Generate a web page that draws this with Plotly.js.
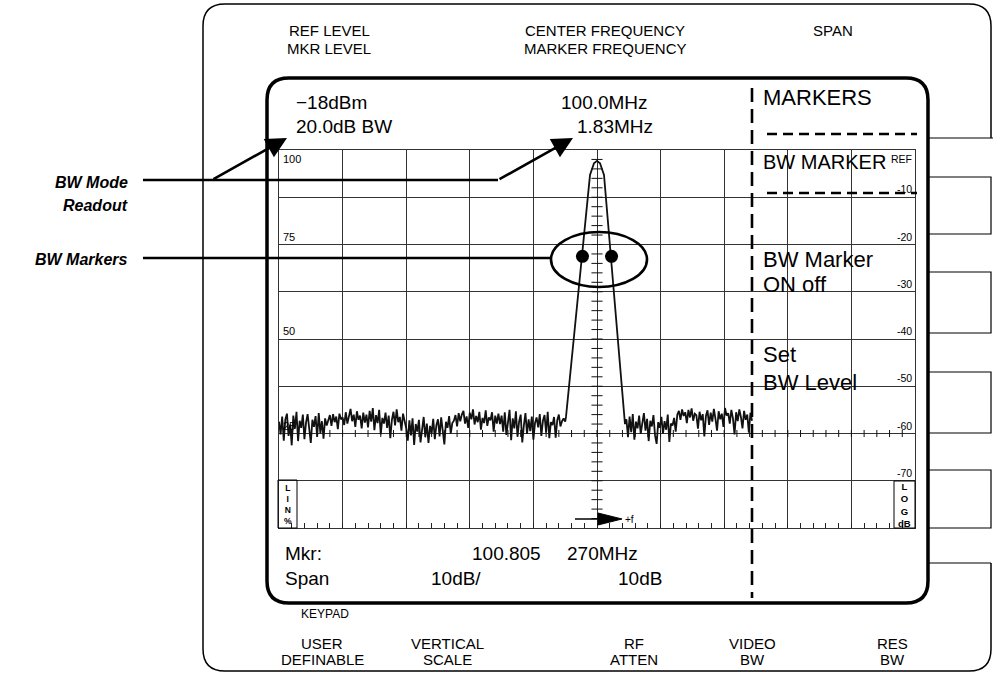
<!DOCTYPE html>
<html><head><meta charset="utf-8">
<script src="https://cdn.plot.ly/plotly-3.0.1.min.js"></script>
<style>html,body{margin:0;padding:0;background:#fff;} #chart{width:993px;height:674px;}</style>
</head><body><div id="chart"></div>
<script>
// ---------------- data (frequency offset from 100.0 MHz centre, level in dB rel. REF) ----------------
const noiseLeftStart = -20.0;
const noiseRightStart = 1.85;
const noiseStep = 0.1;
const noiseLeft = [
 -57.5,-60.2,-56.4,-61.5,-57.0,-55.8,-60.5,-58.1,-62.5,-56.2,-59.0,-55.4,-61.6,-57.3,-58.8,-56.0,-61.2,-57.7,-55.9,-59.4,-62.0,-57.1,-58.6,-56.3,-60.7,-55.7,-59.9,-57.4,-61.1,-56.8,-58.3,
 -57.2,-56.1,-58.4,-55.9,-57.6,-56.4,-59.1,-55.8,-57.0,-56.6,-58.2,-55.5,-57.9,-56.3,-54.8,-57.4,-56.0,-58.6,-55.3,-57.1,-56.2,-58.9,-55.6,-57.7,
 -56.0,-58.7,-55.2,-57.5,-54.6,-59.3,-56.1,-57.8,-55.0,-60.2,-56.7,-57.9,-55.6,-58.8,-56.2,-61.0,-57.1,-55.4,-58.3,-54.9,-57.6,-56.5,-59.4,-55.8,-57.3,
 -58.9,-61.5,-57.2,-60.4,-56.8,-62.4,-58.0,-59.6,-57.1,-61.9,-58.6,-56.5,-60.8,-57.9,-62.0,-58.4,-59.9,-56.9,-61.2,-58.2,-57.0,-60.6,-56.6,-59.1,-62.3,-57.5,-58.8,-56.3,-60.0,-57.8,
 -57.3,-56.1,-58.5,-55.7,-57.4,-56.0,-55.2,-57.9,-56.4,-58.8,-55.6,-57.0,-54.9,-58.1,-56.3,-57.6,-55.4,-59.2,-56.7,-57.8,-55.1,-58.4,-56.6,-57.2,-55.5,-59.6,-56.2,-57.9,-55.8,-58.0,
 -56.2,-59.6,-55.5,-60.3,-57.1,-55.0,-61.4,-56.8,-58.9,-55.3,-60.7,-57.5,-56.0,-61.9,-58.3,-55.7,-60.1,-57.0,-59.5,-56.4,-61.3,-57.8,-56.6,-58.7,-55.9,-60.5,-57.3,-56.1,-59.8,-55.4,-61.0,-57.6,-58.2,-56.5,-60.9,-57.2,-56.0,-58.5,-57.4,-56.8,-57.5
];
const peakOffsets = [-1.95, -0.44, -0.19, 0.0, 0.19, 0.44, 1.76];
const peakLevels  = [-56.5, -5.3, -2.8, -2.3, -2.8, -5.3, -58.0];
const noiseRight = [
 -57.0,-60.8,-56.4,-59.7,-55.9,-61.3,-57.5,-58.9,-56.2,-60.1,-57.8,-55.7,-59.4,-56.9,-61.6,-57.3,-58.5,-56.1,-60.4,-62.2,-57.6,-58.8,-56.5,-60.0,-57.4,-59.2,-56.0,-61.8,-57.9,-58.3,-56.7,-59.6,
 -56.0,-55.2,-57.1,-54.9,-56.3,-55.5,-57.8,-55.0,-56.6,-54.7,-57.3,-55.8,-56.1,-59.0,-55.4,-57.2,-55.9,-60.6,-56.3,-55.1,-58.2,-55.6,-57.5,-54.8,-56.9,-59.4,-55.3,-57.0,-55.8,-58.6,-54.6,-56.2,-55.7,-57.9,-55.0,-56.8,-60.2,-55.5,-57.4,-54.9,-56.5,-58.9,-55.2,-57.1,-56.0,-59.8,-55.6,-57.3
];
const bwMarkerOffsets = [-0.915, 0.915];
const bwMarkerLevels  = [-22.5, -22.5];
const dbTickVals  = [0, -10, -20, -30, -40, -50, -60, -70];
const dbTickText  = ['REF', '-10', '-20', '-30', '-40', '-50', '-60', '-70'];
const linTickVals = [100, 75, 50, 25];
const linTickText = ['100', '75', '50', '25'];

// ---------------- build trace ----------------
const tx = [], ty = [];
noiseLeft.forEach((v, i) => { tx.push(noiseLeftStart + i * noiseStep); ty.push(v); });
peakOffsets.forEach((v, i) => { tx.push(v); ty.push(peakLevels[i]); });
noiseRight.forEach((v, i) => { tx.push(noiseRightStart + i * noiseStep); ty.push(v); });

const traces = [
  {x: tx, y: ty, type: 'scatter', mode: 'lines', line: {color: '#111', width: 1.8}, hoverinfo: 'skip'},
  {x: bwMarkerOffsets, y: bwMarkerLevels, type: 'scatter', mode: 'markers',
   marker: {color: '#000', size: 13}, hoverinfo: 'skip'}
];

// ---------------- pixel helpers (plot area 279..915 x 150..528) ----------------
const L = 279, R = 915, T = 150, B = 528;
const px = v => (v - L) / (R - L);
const py = v => (B - v) / (B - T);
const P = (x, y) => px(x).toFixed(5) + ',' + py(y).toFixed(5);
function rrect(x0, y0, x1, y1, r) {
  return 'M' + P(x0 + r, y0) + ' L' + P(x1 - r, y0) + ' Q' + P(x1, y0) + ' ' + P(x1, y0 + r) +
    ' L' + P(x1, y1 - r) + ' Q' + P(x1, y1) + ' ' + P(x1 - r, y1) +
    ' L' + P(x0 + r, y1) + ' Q' + P(x0, y1) + ' ' + P(x0, y1 - r) +
    ' L' + P(x0, y0 + r) + ' Q' + P(x0, y0) + ' ' + P(x0 + r, y0) + ' Z';
}
const BLK = '#000';
const shapes = [];
function pline(pts, w, dash) {
  shapes.push({type: 'path', xref: 'paper', yref: 'paper',
    path: 'M' + pts.map(p => P(p[0], p[1])).join(' L'),
    line: {color: BLK, width: w, dash: dash || 'solid'}});
}
// outer panel (right side open between keys)
shapes.push({type: 'path', xref: 'paper', yref: 'paper', line: {color: BLK, width: 1.5},
  path: 'M' + P(991, 138) + ' L' + P(991, 26) + ' Q' + P(991, 4) + ' ' + P(969, 4) +
        ' L' + P(225, 4) + ' Q' + P(203, 4) + ' ' + P(203, 26) +
        ' L' + P(203, 649) + ' Q' + P(203, 671) + ' ' + P(225, 671) +
        ' L' + P(969, 671) + ' Q' + P(991, 671) + ' ' + P(991, 649) + ' L' + P(991, 563)});
// soft keys on the right
pline([[928, 138], [993, 138]], 1.2);
pline([[928, 563], [991, 563]], 1.2);
[[177, 234], [272, 333], [372, 433], [470, 528]].forEach(k => {
  pline([[928, k[0]], [991, k[0]], [991, k[1]], [928, k[1]]], 1.2);
});
// inner screen
shapes.push({type: 'path', xref: 'paper', yref: 'paper', path: rrect(267, 78, 928, 603, 22),
  line: {color: BLK, width: 3.5}});
// menu separators
pline([[752, 88], [752, 598]], 2.6, '14px,7px');
pline([[767, 134], [917, 134]], 2.6, '10px,6px');
pline([[767, 193], [917, 193]], 2.6, '10px,6px');
// centre-line graticule ticks
for (let i = 1; i < 40; i++) {
  const v = -80 + i * 2;
  shapes.push({type: 'line', xref: 'x', yref: 'y', x0: -0.35, x1: 0.35, y0: v, y1: v,
    line: {color: '#111', width: 1}});
}
for (let i = 1; i < 50; i++) {
  const f = -20 + i * 0.8;
  shapes.push({type: 'line', xref: 'x', yref: 'y', x0: f, x1: f, y0: -60.75, y1: -59.25,
    line: {color: '#111', width: 1}});
}
// LIN% and LOG dB boxes
shapes.push({type: 'rect', xref: 'paper', yref: 'paper', x0: px(278), x1: px(297), y0: py(528), y1: py(480),
  line: {color: BLK, width: 1}});
shapes.push({type: 'rect', xref: 'paper', yref: 'paper', x0: px(894), x1: px(915), y0: py(528), y1: py(481),
  line: {color: BLK, width: 1}});
// +f arrow
pline([[575, 519], [598, 519]], 1.5);
shapes.push({type: 'path', xref: 'paper', yref: 'paper', path: 'M' + P(598, 513) + ' L' + P(622, 519) + ' L' + P(598, 525) + ' Z',
  fillcolor: BLK, line: {color: BLK, width: 1}});
// BW marker ellipse
shapes.push({type: 'circle', xref: 'paper', yref: 'paper', x0: px(551), x1: px(647), y0: py(287), y1: py(232),
  line: {color: BLK, width: 2.6}});
// callout lines
pline([[143, 180], [498, 180]], 2.6);
pline([[143, 258], [551, 258]], 2.6);

// ---------------- annotations ----------------
const SANS = 'Liberation Sans, Arial, Helvetica, sans-serif';
const ann = [];
function txt(t, x, y, size, anchor, extra) {
  const a = {text: t, xref: 'paper', yref: 'paper', x: px(x), y: py(y), xanchor: anchor || 'left', yanchor: 'middle',
    showarrow: false, borderpad: 0,
    font: Object.assign({family: SANS, size: size, color: BLK}, (extra && extra.font) || {})};
  ann.push(a);
  return a;
}
// arrows
ann.push({text: '', xref: 'paper', yref: 'paper', x: px(287), y: py(138), ax: -75, ay: 42, showarrow: true,
  arrowhead: 2, arrowsize: 1.6, arrowwidth: 2.6, arrowcolor: BLK, standoff: 0});
ann.push({text: '', xref: 'paper', yref: 'paper', x: px(573), y: py(138), ax: -75, ay: 42, showarrow: true,
  arrowhead: 2, arrowsize: 1.6, arrowwidth: 2.6, arrowcolor: BLK, standoff: 0});
// outer labels
txt('REF LEVEL', 329, 30, 15, 'center');
txt('MKR LEVEL', 329, 48, 15, 'center');
txt('CENTER FREQUENCY', 605, 30, 15, 'center');
txt('MARKER FREQUENCY', 605, 48, 15, 'center');
txt('SPAN', 833, 30, 15, 'center');
txt('KEYPAD', 325, 614, 12, 'center');
[['USER', 'DEFINABLE', 322], ['VERTICAL', 'SCALE', 447], ['RF', 'ATTEN', 634], ['VIDEO', 'BW', 752], ['RES', 'BW', 892]]
  .forEach(k => { txt(k[0], k[2], 643, 15, 'center'); txt(k[1], k[2], 659, 15, 'center'); });
// callout texts
const BI = {font: {family: SANS, weight: 'bold', style: 'italic'}};
txt('BW Mode', 129, 182, 16, 'right', BI);
txt('Readout', 129, 205, 16, 'right', BI);
txt('BW Markers', 129, 259, 16, 'right', BI);
// screen readouts
txt('\u221218dBm', 295, 103, 19, 'left');
txt('20.0dB BW', 295, 127, 19, 'left');
txt('100.0MHz', 649, 103, 19, 'right');
txt('1.83MHz', 654, 127, 19, 'right');
txt('Mkr:', 284, 553, 19, 'left');
txt('100.805', 471, 553, 19, 'left');
txt('270MHz', 566, 553, 19, 'left');
txt('Span', 284, 578, 19, 'left');
txt('10dB/', 430, 578, 19, 'left');
txt('10dB', 617, 578, 19, 'left');
// menu
txt('MARKERS', 762, 98, 22, 'left');
txt('BW MARKER', 762, 162, 20, 'left');
txt('BW Marker', 762, 259, 22, 'left');
txt('ON off', 762, 284, 22, 'left');
txt('Set', 762, 354, 22, 'left');
txt('BW Level', 762, 382, 22, 'left');
// graticule scale labels
dbTickVals.forEach((v, i) => {
  ann.push({text: dbTickText[i], xref: 'paper', yref: 'y', x: px(913), y: v, xanchor: 'right',
    yanchor: i === 0 ? 'top' : 'bottom', yshift: i === 0 ? -2 : 1, showarrow: false, borderpad: 0,
    font: {family: SANS, size: 10.5, color: BLK}});
});
linTickVals.forEach((v, i) => {
  ann.push({text: linTickText[i], xref: 'paper', yref: 'y2', x: px(282), y: v, xanchor: 'left',
    yanchor: i === 0 ? 'top' : 'bottom', yshift: i === 0 ? -2 : 1, showarrow: false, borderpad: 0,
    font: {family: SANS, size: 11, color: BLK}});
});
// box letters
txt('L<br>I<br>N<br>%', 287.5, 504, 8.5, 'center', {font: {weight: 'bold'}});
txt('L<br>O<br>G<br>dB', 904.5, 505, 9.5, 'center', {font: {weight: 'bold'}});
txt('+f', 624, 519, 10, 'left');

const axBase = {showticklabels: false, zeroline: false, fixedrange: true, showline: true, mirror: true,
  linecolor: '#333', linewidth: 1, showgrid: true, gridcolor: '#333', gridwidth: 1};
const layout = {
  width: 993, height: 674, margin: {l: L, r: 993 - R, t: T, b: 674 - B, pad: 0},
  paper_bgcolor: '#fff', plot_bgcolor: '#fff', showlegend: false,
  xaxis: Object.assign({}, axBase, {range: [-20, 20], tick0: 0, dtick: 4, ticks: 'inside', ticklen: 5, tickcolor: '#222',
    minor: {dtick: 0.8, ticks: 'inside', ticklen: 5, tickcolor: '#222', showgrid: false}}),
  yaxis: Object.assign({}, axBase, {range: [-80, 0], tick0: 0, dtick: 10, ticks: ''}),
  yaxis2: {range: [0, 100], overlaying: 'y', visible: false, fixedrange: true},
  shapes: shapes,
  annotations: ann
};
Plotly.newPlot('chart', traces, layout, {staticPlot: true, displayModeBar: false});
</script>
</body></html>
